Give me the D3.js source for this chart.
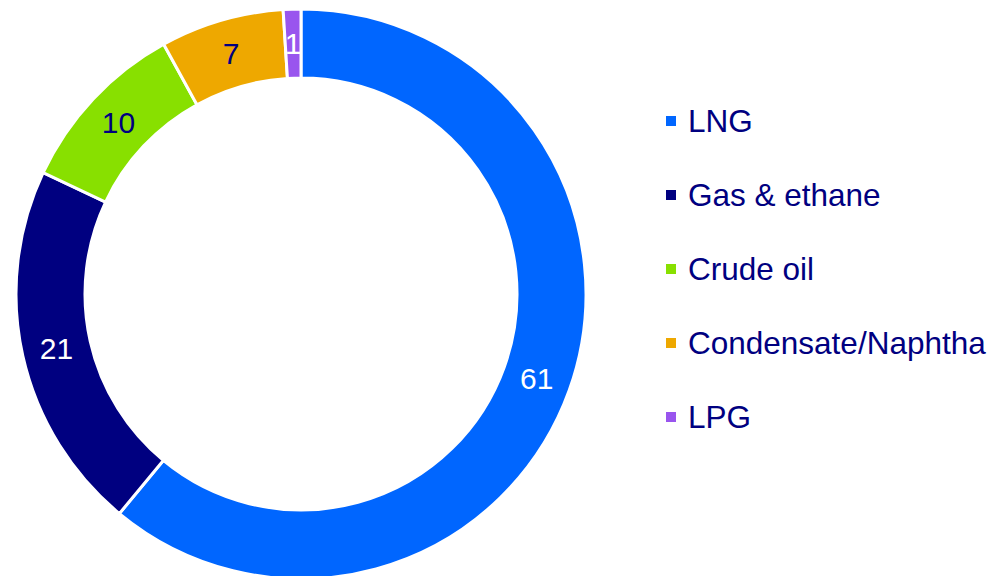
<!DOCTYPE html>
<html>
<head>
<meta charset="utf-8">
<script src="https://cdn.jsdelivr.net/npm/d3@7/dist/d3.min.js"></script>
<style>
  html, body { margin: 0; padding: 0; background: #ffffff; }
  svg { display: block; font-family: Arial, "Liberation Sans", sans-serif; }
</style>
</head>
<body>
<svg id="chart" width="995" height="576"></svg>
<script>
// Share of cargo by type (%)
const categories = ["LNG", "Gas & ethane", "Crude oil", "Condensate/Naphtha", "LPG"];
const values = [61, 21, 10, 7, 1];
const colors = ["#0066FF", "#000080", "#88E000", "#EEA800", "#9955EE"];
const labelColors = ["#ffffff", "#ffffff", "#000080", "#000080", "#ffffff"];

const svg = d3.select("#chart");
const cx = 301, cy = 294, outerR = 285, innerR = 216;

const data = categories.map((c, i) => ({ name: c, value: values[i], color: colors[i], label: labelColors[i] }));

const pie = d3.pie().value(d => d.value).sort(null);
const arc = d3.arc().innerRadius(innerR).outerRadius(outerR);

const g = svg.append("g").attr("transform", `translate(${cx},${cy})`);
const arcs = pie(data);

g.selectAll("path")
  .data(arcs)
  .join("path")
  .attr("d", arc)
  .attr("fill", d => d.data.color)
  .attr("stroke", "#ffffff")
  .attr("stroke-width", 3)
  .attr("stroke-linejoin", "miter");

g.selectAll("text.val")
  .data(arcs)
  .join("text")
  .attr("class", "val")
  .attr("transform", d => `translate(${arc.centroid(d)})`)
  .attr("text-anchor", "middle")
  .attr("dominant-baseline", "central")
  .attr("font-size", 30)
  .attr("fill", d => d.data.label)
  .text(d => d.data.value);

// Legend
const legend = svg.append("g").attr("transform", "translate(666,121)");
const rowGap = 74;
const rows = legend.selectAll("g")
  .data(data)
  .join("g")
  .attr("transform", (d, i) => `translate(0,${i * rowGap})`);

rows.append("rect")
  .attr("x", 0).attr("y", -5)
  .attr("width", 10).attr("height", 10)
  .attr("fill", d => d.color);

rows.append("text")
  .attr("x", 22)
  .attr("y", 0)
  .attr("dominant-baseline", "central")
  .attr("font-size", 31.5)
  .attr("fill", "#000080")
  .text(d => d.name);
</script>
</body>
</html>
